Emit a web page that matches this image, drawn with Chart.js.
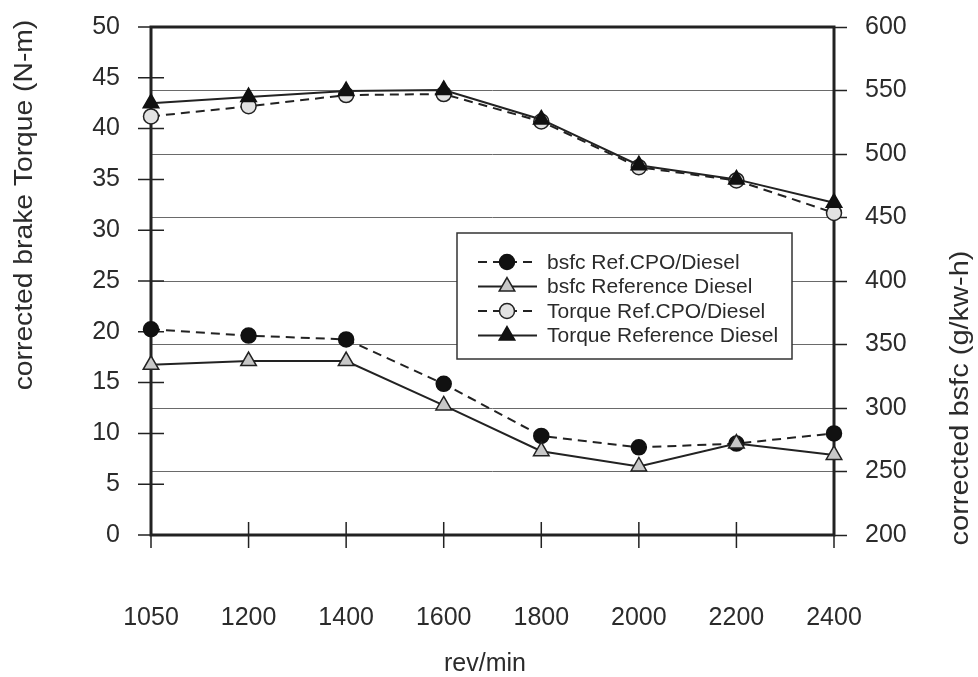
<!DOCTYPE html>
<html>
<head>
<meta charset="utf-8">
<script src="https://cdn.jsdelivr.net/npm/chart.js"></script>
<style>
  body { margin: 0; background: #fff; }
  #wrap { width: 978px; height: 677px; }
</style>
</head>
<body>
<div id="wrap"><canvas id="myCanvas" width="978" height="677"></canvas></div>
<script>
// values
const rpm = ['1050', '1200', '1400', '1600', '1800', '2000', '2200', '2400'];
const bsfcCpo = [362, 357, 354, 319, 278, 269, 272, 280];
const bsfcRef = [334, 337, 337, 302, 266, 254, 272, 263];
const torqueCpo = [41.2, 42.2, 43.3, 43.4, 40.7, 36.2, 34.9, 31.7];
const torqueRef = [42.5, 43.1, 43.7, 43.8, 40.9, 36.4, 35.0, 32.7];
const torqueAxis = [0, 50, 5];     // min, max, step
const bsfcAxis = [200, 600, 50];

const FONT = '"Liberation Sans", Arial, sans-serif';
const INK = '#2b2b2b';

// vertical title, the scan is a bit stretched top-to-bottom so stretch along the text
function sideTitle(ctx, text, x, y, stretch) {
  ctx.save();
  ctx.fillStyle = INK;
  ctx.font = '25px ' + FONT;
  ctx.textAlign = 'center';
  ctx.textBaseline = 'middle';
  ctx.translate(x, y);
  ctx.rotate(-Math.PI / 2);
  ctx.scale(stretch, 1);
  ctx.fillText(text, 0, 0);
  ctx.restore();
}

// fixed box sizes so the plot area lands where the scan has it
function fixBox(w, h) {
  return s => {
    if (w) s.width = w;
    if (h) s.height = h;
    s.paddingTop = 0;
    s.paddingBottom = 0;
    s.paddingLeft = 0;
    s.paddingRight = 0;
  };
}

// frame + crossing tick marks on the left and bottom axes
const frameAndTicks = {
  id: 'frameAndTicks',
  beforeDatasetsDraw(chart) {
    const {ctx, chartArea: a, scales} = chart;
    ctx.save();
    ctx.strokeStyle = '#222';
    ctx.lineWidth = 1.5;
    ctx.beginPath();
    scales.y.ticks.forEach(t => {
      const py = scales.y.getPixelForValue(t.value);
      ctx.moveTo(a.left - 13, py);
      ctx.lineTo(a.left + 13, py);
    });
    scales.x.ticks.forEach((t, i) => {
      const px = scales.x.getPixelForTick(i);
      ctx.moveTo(px, a.bottom - 13);
      ctx.lineTo(px, a.bottom + 13);
    });
    ctx.stroke();
    ctx.lineWidth = 3;
    ctx.strokeRect(a.left, a.top, a.right - a.left, a.bottom - a.top);
    ctx.restore();
  },
  afterDraw(chart) {
    const {ctx} = chart;
    ctx.save();
    ctx.fillStyle = INK;
    ctx.font = '25px ' + FONT;
    ctx.textAlign = 'center';
    ctx.textBaseline = 'middle';
    ctx.fillText('rev/min', 485, 664);
    ctx.restore();
    sideTitle(ctx, 'corrected brake Torque (N-m)', 25, 205, 1.13);
    sideTitle(ctx, 'corrected bsfc (g/kw-h)', 961, 398, 1.16);
  }
};

// boxed legend inside the plot, line sample with marker in the middle
const boxLegend = {
  id: 'boxLegend',
  afterDatasetsDraw(chart) {
    const {ctx} = chart;
    const x0 = 457, y0 = 233, w = 335, h = 126;
    ctx.save();
    ctx.fillStyle = '#fff';
    ctx.fillRect(x0, y0, w, h);
    ctx.strokeStyle = '#333';
    ctx.lineWidth = 1.5;
    ctx.strokeRect(x0, y0, w, h);
    ctx.font = '21px ' + FONT;
    ctx.textBaseline = 'middle';
    chart.data.datasets.forEach((ds, i) => {
      const y = 262 + i * 24.5;
      ctx.strokeStyle = ds.borderColor;
      ctx.lineWidth = 2;
      ctx.setLineDash(ds.borderDash || []);
      ctx.beginPath();
      ctx.moveTo(478, y);
      ctx.lineTo(537, y);
      ctx.stroke();
      ctx.setLineDash([]);
      ctx.fillStyle = ds.pointBackgroundColor;
      ctx.strokeStyle = ds.pointBorderColor;
      ctx.lineWidth = ds.pointBorderWidth;
      Chart.helpers.drawPoint(ctx, {
        pointStyle: ds.pointStyle, radius: ds.pointRadius,
        rotation: 0, borderWidth: ds.pointBorderWidth
      }, 507, y);
      ctx.fillStyle = INK;
      ctx.fillText(ds.label, 547, y + 1);
    });
    ctx.restore();
  }
};

const ctx = document.getElementById('myCanvas').getContext('2d');
new Chart(ctx, {
  type: 'line',
  data: {
    labels: rpm,
    datasets: [
      {
        label: 'bsfc Ref.CPO/Diesel', data: bsfcCpo, yAxisID: 'y1', order: 1,
        borderColor: '#222', borderWidth: 2, borderDash: [9, 6],
        pointStyle: 'circle', pointRadius: 7.5,
        pointBackgroundColor: '#111', pointBorderColor: '#111', pointBorderWidth: 1.5
      },
      {
        label: 'bsfc Reference Diesel', data: bsfcRef, yAxisID: 'y1', order: 0,
        borderColor: '#222', borderWidth: 2,
        pointStyle: 'triangle', pointRadius: 9,
        pointBackgroundColor: '#c8c8c8', pointBorderColor: '#222', pointBorderWidth: 1.5
      },
      {
        label: 'Torque Ref.CPO/Diesel', data: torqueCpo, yAxisID: 'y', order: 1,
        borderColor: '#222', borderWidth: 2, borderDash: [9, 6],
        pointStyle: 'circle', pointRadius: 7.5,
        pointBackgroundColor: '#e2e2e2', pointBorderColor: '#222', pointBorderWidth: 1.5
      },
      {
        label: 'Torque Reference Diesel', data: torqueRef, yAxisID: 'y', order: 0,
        borderColor: '#222', borderWidth: 2,
        pointStyle: 'triangle', pointRadius: 9,
        pointBackgroundColor: '#111', pointBorderColor: '#111', pointBorderWidth: 1.5
      }
    ]
  },
  options: {
    responsive: false,
    animation: false,
    clip: false,
    layout: {padding: {top: 27, left: 0, right: 0, bottom: 0}},
    plugins: {legend: {display: false}, tooltip: {enabled: false}},
    scales: {
      x: {
        position: 'bottom',
        offset: false,
        grid: {display: false, drawTicks: false, tickLength: 0},
        border: {display: false},
        ticks: {color: INK, font: {family: FONT, size: 25}, padding: 68, maxRotation: 0, autoSkip: false},
        afterFit: fixBox(0, 142)
      },
      y: {
        position: 'left',
        min: torqueAxis[0], max: torqueAxis[1],
        grid: {display: false, drawTicks: false, tickLength: 0},
        border: {display: false},
        ticks: {stepSize: torqueAxis[2], color: INK, font: {family: FONT, size: 25}, padding: 31},
        afterFit: fixBox(151, 0)
      },
      y1: {
        position: 'right',
        min: bsfcAxis[0], max: bsfcAxis[1],
        grid: {color: '#6a6a6a', lineWidth: 1, drawTicks: true, tickLength: 13, tickColor: '#222', tickWidth: 1.5},
        border: {display: false},
        ticks: {stepSize: bsfcAxis[2], color: INK, font: {family: FONT, size: 25}, padding: 18},
        afterFit: fixBox(144, 0)
      }
    }
  },
  plugins: [frameAndTicks, boxLegend]
});
</script>
</body>
</html>
